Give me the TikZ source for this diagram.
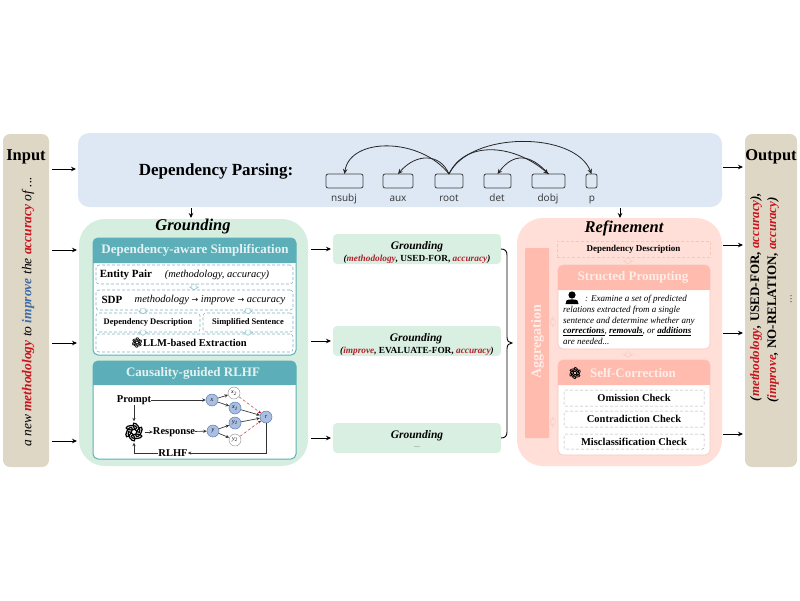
\documentclass[tikz,border=0pt]{standalone}
\usepackage{fontspec}
\setmainfont{Liberation Serif}
\newfontfamily\labfont{Open Sans}
\usetikzlibrary{arrows.meta,calc}
\definecolor{tanbox}{HTML}{DFD7C5}
\definecolor{bluebox}{HTML}{DEE8F4}
\definecolor{greenbox}{HTML}{D5EEDF}
\definecolor{groundbox}{HTML}{D9EFE2}
\definecolor{tealhead}{HTML}{5CAFB9}
\definecolor{tealdash}{HTML}{7FB8C2}
\definecolor{pinkbox}{HTML}{FFDFD8}
\definecolor{pinkhead}{HTML}{FFBBAE}
\definecolor{pinkdash}{HTML}{F6C6BA}
\definecolor{paletext}{HTML}{E4F2F3}
\definecolor{palepink}{HTML}{FFEDE8}
\definecolor{dred}{HTML}{B4202A}
\definecolor{bred}{HTML}{C8161E}
\definecolor{dblue}{HTML}{3F6CA8}
\definecolor{nodeblue}{HTML}{A9BEE0}
\definecolor{nodeline}{HTML}{5E7FB0}
\newcommand{\fsz}[1]{\fontsize{#1}{#1}\selectfont}
% \rbox[style]{x0}{y0}{x1}{y1}{text}
\newcommand{\rbox}[6][]{%
  \pgfmathsetmacro\rw{#4-#2}\pgfmathsetmacro\rh{#5-#3}%
  \node[inner sep=0pt,outer sep=0pt,minimum width=\rw pt,minimum height=\rh pt,#1] at ({(#2+#4)/2},{(#3+#5)/2}) {#6};}
\newcommand{\headband}[5]{%
  \fill[#1,rounded corners=5pt] (#2,#5) -- (#2,#3) -- (#4,#3) -- (#4,#5) [sharp corners] -- cycle;
  \fill[#1] (#2,{#5-4}) rectangle (#4,#5);}
\newcommand{\gptlogo}[3]{%
  \begin{scope}[shift={(#1,#2)}]
  \foreach \a in {0,60,...,300}{
    \draw[black,line width=#3*0.13pt,rotate=\a,shift={(#3*0.52,0)},rotate=62] (0,0) ellipse ({#3*0.56} and {#3*0.24});}
  \end{scope}}
\newcommand{\hollowarrow}[4][0]{%
  \begin{scope}[shift={(#2,#3)},rotate=#1]
  \draw[line width=.45pt,line join=miter,#4]
   (-2.2,-2.5) -- (2.2,-2.5) -- (2.2,0) -- (4.5,0) -- (0,2.8) -- (-4.5,0) -- (-2.2,0) -- cycle;
  \end{scope}}
\tikzset{
  arr/.style={-{Stealth[length=5pt,width=4.5pt]},line width=.9pt,black},
  thinarr/.style={-{Stealth[length=3.5pt,width=3.2pt]},line width=.65pt,black!80},
  panel/.style={draw=tealhead,line width=1pt,fill=white,rounded corners=5pt},
  tealdashbox/.style={draw=tealdash,densely dashed,line width=.6pt,fill=white,rounded corners=3pt},
  pinkpanel/.style={draw=pinkdash,line width=.6pt,fill=white,rounded corners=5pt},
  checkbox/.style={draw=black!30,densely dashed,line width=.5pt,fill=white,rounded corners=1pt,font=\fsz{10.5}\bfseries},
  depbox/.style={draw=black!75,line width=.8pt,fill=none,rounded corners=2pt},
  deplab/.style={font=\labfont\fsz{10},text=black!80,inner sep=0pt,anchor=base},
  arc/.style={-{Stealth[length=5pt,width=4.5pt]},line width=.8pt,black!85},
  groundstyle/.style={fill=groundbox,rounded corners=4pt},
  sn/.style={circle,minimum size=12pt,inner sep=0pt,draw=nodeline,line width=.5pt,fill=nodeblue,font=\fsz{6}\itshape},
  wn/.style={circle,minimum size=12pt,inner sep=0pt,draw=black!45,line width=.4pt,fill=white,font=\fsz{6}\itshape},
  redgo/.style={-{Stealth[length=3pt,width=2.6pt]},densely dashed,line width=.35pt,red!65!black},
  tealhollow/.style={draw=tealdash,fill=white},
  pinkhollow/.style={draw=pinkdash,fill=pinkbox},
}
\begin{document}
\begin{tikzpicture}[x=1pt,y=-1pt]
\useasboundingbox (0,0) rectangle (800,600);
% large containers
\rbox[fill=tanbox,rounded corners=7pt,name=input]{3}{134}{49}{467}{}
\rbox[fill=tanbox,rounded corners=7pt,name=output]{745}{134}{797}{467}{}
\rbox[fill=bluebox,rounded corners=11pt,name=dep]{78}{133}{722}{207}{}
\rbox[fill=greenbox,rounded corners=26pt,name=ground]{79}{219}{308}{466}{}
\rbox[fill=pinkbox,rounded corners=26pt,name=refine]{517}{218}{722}{466}{}
% titles
\node[font=\fsz{16.5}\bfseries,inner sep=0] (intitle) at (26,157) {Input};
\node[font=\fsz{16.5}\bfseries,inner sep=0] (outtitle) at (771,157) {Output};
\node[font=\fsz{17}\bfseries,inner sep=0] (deptitle) at (216,171) {Dependency Parsing:};
\node[font=\fsz{16.5}\bfseries\itshape,inner sep=0] (gtitle) at (193,227) {Grounding};
\node[font=\fsz{16.5}\bfseries\itshape,inner sep=0] (rtitle) at (624,228) {Refinement};
% input and output text
\node[rotate=90,font=\fsz{13.5}\itshape,inner sep=0] (intext) at (28,312)
 {a new \textcolor{bred}{\textbf{methodology}} to \textcolor{dblue}{\textbf{improve}} the \textcolor{bred}{\textbf{accuracy}} of ...};
\node[rotate=90,font=\fsz{13}\bfseries,inner sep=0] (outa) at (756,297)
 {\textit{(\textcolor{bred}{methodology},} USED-FOR, \textit{\textcolor{bred}{accuracy}),}};
\node[rotate=90,font=\fsz{13}\bfseries,inner sep=0] (outb) at (773,300)
 {\textit{(\textcolor{bred}{improve},} NO-RELATION, \textit{\textcolor{bred}{accuracy})}};
\node[rotate=90,font=\fsz{11},inner sep=0,text=black!70] (outc) at (791,299) {...};
% dependency boxes
\rbox[depbox,name=nsubj]{326}{174}{363}{188}{}
\rbox[depbox,name=aux]{383}{174}{413}{188}{}
\rbox[depbox,name=root]{435}{174}{463}{188}{}
\rbox[depbox,name=det]{484}{174}{511}{188}{}
\rbox[depbox,name=dobj]{532}{174}{565}{188}{}
\rbox[depbox,name=pbox]{586}{174}{597}{188}{}
\node[deplab] (lnsubj) at (344,201) {nsubj};
\node[deplab] (laux) at (398,201) {aux};
\node[deplab] (lroot) at (449,201) {root};
\node[deplab] (ldet) at (497,201) {det};
\node[deplab] (ldobj) at (548,201) {dobj};
\node[deplab] (lp) at (592,201) {p};
\draw[arc] (root.north) .. controls (420,137) and (350,137) .. (nsubj.north);
\draw[arc] (root.north) .. controls (440,153) and (416,153) .. (aux.north);
\draw[arc] (root.north) .. controls (465,140) and (514,144) .. (dobj.north);
\draw[arc] (root.north) .. controls (470,131) and (575,131) .. (pbox.north);
\draw[arc] (dobj.north) .. controls (530,153) and (513,153) .. (det.north);
% main arrows
\draw[arr,shorten <=3pt,shorten >=2pt] (input.east |- 0,169) -- (dep.west |- 0,169);
\draw[arr,shorten <=3pt,shorten >=2pt] (input.east |- 0,250) -- (ground.west |- 0,250);
\draw[arr,shorten <=3pt,shorten >=2pt] (input.east |- 0,343) -- (ground.west |- 0,343);
\draw[arr,shorten <=3pt,shorten >=2pt] (input.east |- 0,441) -- (ground.west |- 0,441);
\draw[arr,shorten <=1pt,shorten >=2pt] (dep.east |- 0,167) -- (output.west |- 0,167);
\draw[arr,shorten <=1pt,shorten >=2pt] (refine.east |- 0,245) -- (output.west |- 0,245);
\draw[arr,shorten <=1pt,shorten >=2pt] (refine.east |- 0,333) -- (output.west |- 0,333);
\draw[arr,shorten <=1pt,shorten >=2pt] (refine.east |- 0,434) -- (output.west |- 0,434);
\draw[arr,shorten <=1pt] (dep.south -| 191,0) -- (191,218);
\draw[arr,shorten <=1pt] (dep.south -| 620,0) -- (620,218);
% grounding result boxes
\rbox[groundstyle,name=g1]{333}{234}{501}{264}{}
\rbox[groundstyle,name=g2]{333}{326}{501}{356}{}
\rbox[groundstyle,name=g3]{333}{423}{501}{453}{}
\node[font=\fsz{11.5}\bfseries\itshape,inner sep=0] (g1t) at (417,246.5) {Grounding};
\node[font=\fsz{9.3}\bfseries,inner sep=0] (g1s) at (417,259) {\textit{(\textcolor{dred}{methodology},} USED-FOR, \textit{\textcolor{dred}{accuracy})}};
\node[font=\fsz{11.5}\bfseries\itshape,inner sep=0] (g2t) at (416,339) {Grounding};
\node[font=\fsz{9.3}\bfseries,inner sep=0] (g2s) at (417,351) {\textit{(\textcolor{dred}{improve},} EVALUATE-FOR, \textit{\textcolor{dred}{accuracy})}};
\node[font=\fsz{11.5}\bfseries\itshape,inner sep=0] (g3t) at (417,435.5) {Grounding};
\node[font=\fsz{8},text=black!60,inner sep=0] (g3s) at (417,447) {...};
\draw[arr,shorten >=2pt] (ground.east |- g1) ++(3,0) coordinate (ga) -- (g1.west);
\draw[arr,shorten >=2pt] (ground.east |- g2) ++(3,0) coordinate (gb) -- (g2.west);
\draw[arr,shorten >=2pt] (ground.east |- g3) ++(3,0) coordinate (gc) -- (g3.west);
\draw[line width=.9pt,black] (g1.east) .. controls (505,249) and (507,251) .. (507,255) -- (507,337)
  .. controls (507,341) and (509,343) .. (512,343) .. controls (509,343) and (507,345) .. (507,349)
  -- (507,432) .. controls (507,436) and (505,438) .. (g3.east);
% panel 1
\rbox[panel,name=p1]{93}{238}{296}{355}{}
\headband{tealhead}{93}{238}{296}{263}
\node[font=\fsz{13}\bfseries,text=paletext,inner sep=0] (p1h) at (195,250.5) {Dependency-aware Simplification};
\rbox[tealdashbox,name=ep]{96}{265}{293}{284}{}
\node[font=\fsz{11}\bfseries,inner sep=0] (eplab) at (126,275) {Entity Pair};
\node[font=\fsz{10.5}\itshape,inner sep=0] (eptxt) at (217,275) {(methodology, accuracy)};
\rbox[tealdashbox,name=sdp]{96}{290}{293}{310}{}
\node[font=\fsz{11}\bfseries,inner sep=0] (sdplab) at (112,299.5) {SDP};
\node[font=\fsz{10.5}\itshape,inner sep=0] (sdptxt) at (210,299.5) {methodology {\fontspec{DejaVu Sans}\fsz{8}→} improve {\fontspec{DejaVu Sans}\fsz{8}→} accuracy};
\rbox[tealdashbox,font=\fsz{8.5}\bfseries,name=dd]{96}{313}{200}{332}{Dependency Description}
\rbox[tealdashbox,font=\fsz{8.5}\bfseries,name=ss]{203}{313}{293}{332}{Simplified Sentence}
\rbox[tealdashbox,name=llm]{96}{334}{293}{352}{}
\node[font=\fsz{10.5}\bfseries,inner sep=0] (llmt) at (195,342.5) {LLM-based Extraction};
\gptlogo{137}{342.5}{5.2}
\hollowarrow{194}{287}{tealhollow}
\hollowarrow{143}{311}{tealhollow}
\hollowarrow{248}{311}{tealhollow}
\hollowarrow{143}{332.5}{tealhollow}
\hollowarrow{248}{332.5}{tealhollow}
% panel 2
\rbox[panel,name=p2]{93}{361}{296}{459}{}
\headband{tealhead}{93}{361}{296}{385}
\node[font=\fsz{13}\bfseries,text=paletext,inner sep=0] (p2h) at (193,373) {Causality-guided RLHF};
\node[font=\fsz{10.5}\bfseries,inner sep=0] (prompt) at (134,400) {Prompt};
\node[font=\fsz{10.5}\bfseries,inner sep=0] (resp) at (174,432) {Response};
\node[font=\fsz{10.5}\bfseries,inner sep=0] (rlhf) at (173,453) {RLHF};
\node[inner sep=0,minimum size=21pt,circle] (logo) at (134,432) {};
\gptlogo{134}{432}{9.5}
\node[sn] (x) at (212,400) {x};
\node[wn] (x2) at (234,393) {x\textsubscript{2}};
\node[sn] (x1) at (235,408) {x\textsubscript{1}};
\node[sn] (y) at (213,431) {y};
\node[sn] (y1) at (235,423) {y\textsubscript{1}};
\node[wn] (y2) at (235,440) {y\textsubscript{2}};
\node[sn] (r) at (266,417) {r};
\draw[thinarr] (prompt) -- (x);
\draw[thinarr] (resp) -- (y);
\draw[thinarr] (prompt) -- (logo);
\draw[thinarr] (logo) -- (resp);
\draw[thinarr] (x) -- (x2);
\draw[thinarr] (x) -- (x1);
\draw[thinarr] (y) -- (y1);
\draw[thinarr] (y) -- (y2);
\draw[thinarr] (x1) -- (r);
\draw[thinarr] (y1) -- (r);
\draw[redgo] (x2) -- (r);
\draw[redgo] (y2) -- (r);
\draw[thinarr] (r) |- (rlhf);
\draw[thinarr] (rlhf) -| (logo);
% refinement
\rbox[fill=pinkhead,rounded corners=1pt,name=agg]{525}{248}{549}{438}{}
\node[rotate=90,font=\fsz{14}\bfseries,text=palepink,inner sep=0] (aggt) at (537.5,342) {Aggregation};
\rbox[draw=pinkdash,densely dashed,line width=.5pt,font=\fsz{9}\bfseries,name=rdd]{557}{241}{710}{257}{Dependency Description}
\hollowarrow[-90]{553}{322}{pinkhollow}
\hollowarrow[-90]{553}{422}{pinkhollow}
\hollowarrow{628}{261}{pinkhollow}
\hollowarrow{628}{354.5}{pinkhollow}
\rbox[pinkpanel,name=sp]{558}{265}{710}{349}{}
\headband{pinkhead}{558}{265}{710}{290}
\node[font=\fsz{13}\bfseries,text=palepink,inner sep=0] (spt) at (633,277.5) {Structed Prompting};
\node[font=\fsz{9}\itshape,align=left,inner sep=0,anchor=north west] (sptxt) at (563,293.5) {%
  \rule{0pt}{8pt}\hspace{22pt}: Examine a set of predicted\\[1.7pt]
  relations extracted from a single\\[1.7pt]
  sentence and determine whether any\\[1.7pt]
  \textbf{\underline{corrections}}, \textbf{\underline{removals}}, or \textbf{\underline{additions}}\\[1.7pt]
  are needed...};
\fill[black] (572,295) circle (3.6pt);
\fill[black] (565.5,304) -- (566.5,300.5) .. controls (568,299) and (576,299) .. (577.5,300.5) -- (578.5,304) -- cycle;
\rbox[pinkpanel,name=sc]{558}{360}{710}{455}{}
\headband{pinkhead}{558}{360}{710}{385}
\node[font=\fsz{13}\bfseries,text=palepink,inner sep=0] (sct) at (633,373) {Self-Correction};
\gptlogo{575}{373}{6}
\rbox[checkbox,name=c1]{564}{390}{704}{406}{Omission Check}
\rbox[checkbox,name=c2]{564}{411}{704}{427}{Contradiction Check}
\rbox[checkbox,name=c3]{564}{434}{704}{449}{Misclassification Check}
\end{tikzpicture}
\end{document}
